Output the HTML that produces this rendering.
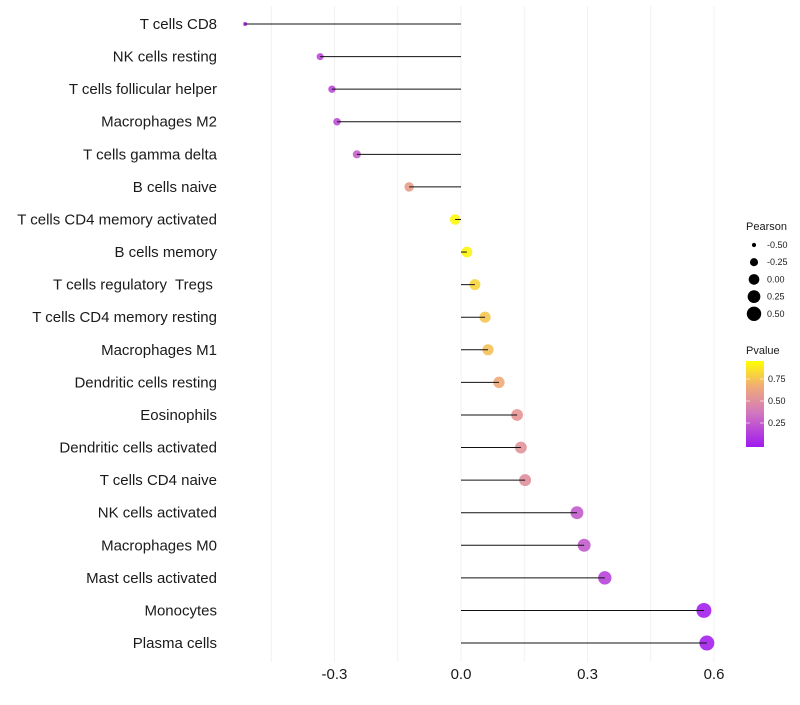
<!DOCTYPE html>
<html><head><meta charset="utf-8"><style>
body{margin:0;background:#fff;font-family:"Liberation Sans",sans-serif}
svg text{font-family:"Liberation Sans",sans-serif;white-space:pre}
</style></head><body>
<svg id="chart" width="800" height="700" xmlns="http://www.w3.org/2000/svg"></svg>
<script>
const categories=["T cells CD8","NK cells resting","T cells follicular helper","Macrophages M2","T cells gamma delta","B cells naive","T cells CD4 memory activated","B cells memory","T cells regulatory  Tregs ","T cells CD4 memory resting","Macrophages M1","Dendritic cells resting","Eosinophils","Dendritic cells activated","T cells CD4 naive","NK cells activated","Macrophages M0","Mast cells activated","Monocytes","Plasma cells"];
const pearson=[-0.512,-0.334,-0.306,-0.294,-0.247,-0.123,-0.014,0.014,0.033,0.057,0.064,0.090,0.133,0.142,0.152,0.275,0.292,0.341,0.576,0.583];
const pvalue=[0.05,0.2,0.2,0.22,0.3,0.62,0.97,0.96,0.85,0.8,0.78,0.7,0.58,0.56,0.54,0.28,0.28,0.18,0.03,0.03];
const xTicks=[-0.3,0.0,0.3,0.6];
const xTickLabels=["-0.3","0.0","0.3","0.6"];
const sizeLegend=[-0.5,-0.25,0,0.25,0.5];
const sizeLegendLabels=["-0.50","-0.25","0.00","0.25","0.50"];
const pTicks=[0.25,0.5,0.75];
const pTickLabels=["0.25","0.50","0.75"];

const svg=document.getElementById('chart');
const NS='http://www.w3.org/2000/svg';
function mk(t,a,p){const e=document.createElementNS(NS,t);for(const k in a)e.setAttribute(k,a[k]);(p||svg).appendChild(e);return e;}
const x=v=>461+v*421.7;
const y=i=>24+i*32.58;
const r=v=>Math.sqrt(Math.max(3,28.3+47.7*v));
function col(p){
 const stops=[[0,[160,26,240]],[0.4,[210,120,190]],[0.7,[240,170,120]],[1,[255,255,0]]];
 for(let i=1;i<stops.length;i++){if(p<=stops[i][0]){const a=stops[i-1],b=stops[i],t=(p-a[0])/(b[0]-a[0]);
 return 'rgb('+a[1].map((c,j)=>Math.round(c+(b[1][j]-c)*t)).join(',')+')';}}
 return 'rgb(255,255,0)';
}
const grid=mk('g',{});


[-0.45,-0.3,-0.15,0,0.15,0.3,0.45,0.6].forEach(v=>{
 const l=mk('line',{x1:x(v),x2:x(v),y1:6,y2:662,stroke:'#f0f0f0','stroke-width':1},grid);
 
 
});
categories.forEach((c,i)=>{
 const t=mk('text',{x:217,y:y(i)+5,'text-anchor':'end','font-size':15,fill:'#1a1a1a'});
 t.textContent=c;
 
 
 const d=mk('circle',{cx:x(pearson[i]),cy:y(i),r:r(pearson[i]),fill:col(pvalue[i]),'fill-opacity':0.9});
 
 
 const l=mk('line',{x1:x(0),x2:x(pearson[i]),y1:y(i),y2:y(i),stroke:'#111','stroke-width':1});
 
 
});
xTicks.forEach((v,i)=>{
 const t=mk('text',{x:x(v),y:679,'text-anchor':'middle','font-size':15,fill:'#1a1a1a'});
 t.textContent=xTickLabels[i];
 
 
});
const lg=mk('g',{});


const lt=mk('text',{x:746,y:230,'font-size':11,fill:'#1a1a1a'},lg);lt.textContent='Pearson';
sizeLegend.forEach((v,i)=>{
 const cy=245+i*17.2;
 const c=mk('circle',{cx:754,cy:cy,r:r(v),fill:'#000'},lg);
 
 
 const t=mk('text',{x:767,y:cy+3,'font-size':9,fill:'#1a1a1a'},lg);t.textContent=sizeLegendLabels[i];
});
const cg=mk('g',{});


const ct=mk('text',{x:746,y:354,'font-size':11,fill:'#1a1a1a'},cg);ct.textContent='Pvalue';
const defs=mk('defs',{});
const gr=mk('linearGradient',{id:'pg',x1:0,y1:1,x2:0,y2:0},defs);
[[0,0],[0.4,0.4],[0.7,0.7],[1,1]].forEach(s=>mk('stop',{offset:s[0],'stop-color':col(s[1])},gr));
const py=v=>445-v*88;
mk('rect',{x:746,y:361,width:18,height:86,fill:'url(#pg)'},cg);
pTicks.forEach((v,i)=>{
 mk('line',{x1:746,x2:750,y1:py(v),y2:py(v),stroke:'#fff','stroke-width':0.6},cg);
 mk('line',{x1:760,x2:764,y1:py(v),y2:py(v),stroke:'#fff','stroke-width':0.6},cg);
 const t=mk('text',{x:768,y:py(v)+3,'font-size':9,fill:'#1a1a1a'},cg);t.textContent=pTickLabels[i];
});
</script>
</body></html>
